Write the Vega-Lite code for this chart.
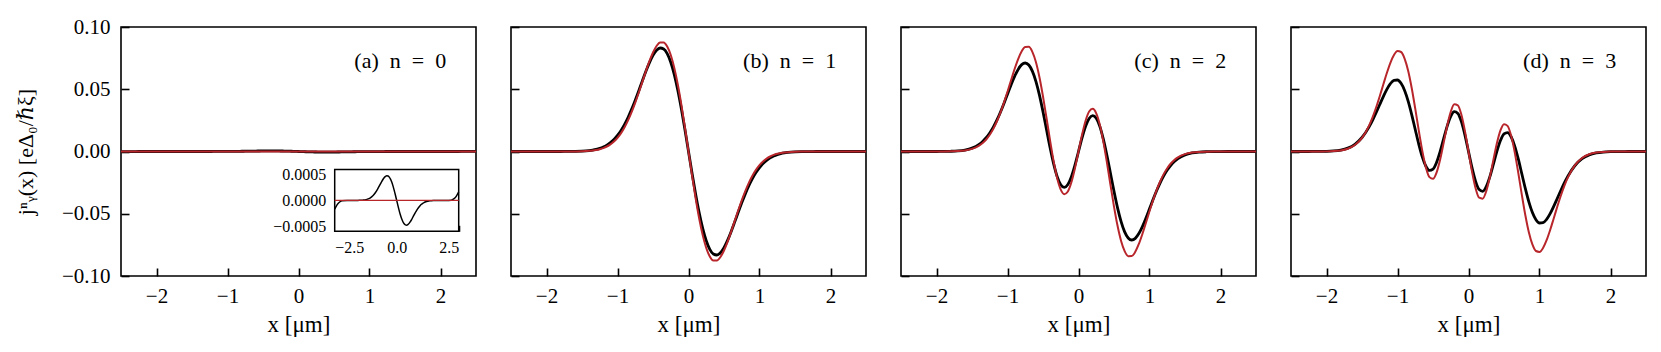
{
 "$schema": "https://vega.github.io/schema/vega-lite/v6.json",
 "background": "white",
 "padding": {"left": 13, "top": 15, "right": 5, "bottom": 5},
 "bounds": "flush",
 "spacing": 35,
 "config": {
  "view": {"stroke": "black", "strokeWidth": 1.6},
  "font": "Liberation Serif, DejaVu Serif, serif",
  "line": {"interpolate": "monotone"},
  "axis": {"domain": false, "grid": false, "zindex": 1, "tickColor": "black", "tickSize": -8, "tickWidth": 1.6,
           "labelFont": "Liberation Serif, DejaVu Serif, serif", "labelFontSize": 21, "labelColor": "black",
           "titleFont": "Liberation Serif, DejaVu Serif, serif", "titleFontSize": 23, "titleColor": "black", "titleFontWeight": "normal"}
 },
 "datasets": {"j": [
  {"x":-2.5,"ak":-0.00017,"ar":0,"bk":0,"br":0,"ck":0,"cr":0,"dk":0,"dr":0},
  {"x":-2.4,"ak":-0.00008,"ar":0,"bk":0,"br":0,"ck":0,"cr":0,"dk":0,"dr":0},
  {"x":-2.3,"ak":-0.00003,"ar":0,"bk":0,"br":0,"ck":0,"cr":0,"dk":0,"dr":0},
  {"x":-2.2,"ak":-0.000005,"ar":0,"bk":0,"br":0,"ck":0,"cr":0,"dk":0.00002,"dr":0.00001},
  {"x":-2.0,"ak":0,"ar":0,"bk":0,"br":0,"ck":0.00002,"cr":0.00001,"dk":0.00017,"dr":0.0001},
  {"x":-1.9,"ak":0,"ar":0,"bk":0,"br":0,"ck":0.00006,"cr":0.00003,"dk":0.00046,"dr":0.00031},
  {"x":-1.8,"ak":0,"ar":0,"bk":0.00001,"br":0,"ck":0.00018,"cr":0.00011,"dk":0.00117,"dr":0.00088},
  {"x":-1.7,"ak":0,"ar":0,"bk":0.00004,"br":0.00002,"ck":0.00049,"cr":0.00031,"dk":0.00271,"dr":0.00224},
  {"x":-1.6,"ak":0.000001,"ar":0,"bk":0.00012,"br":0.00007,"ck":0.0012,"cr":0.00084,"dk":0.00579,"dr":0.00521},
  {"x":-1.5,"ak":0.000002,"ar":0,"bk":0.00031,"br":0.00019,"ck":0.00274,"cr":0.00207,"dk":0.01124,"dr":0.01096},
  {"x":-1.4,"ak":0.000004,"ar":0,"bk":0.00076,"br":0.00051,"ck":0.00575,"cr":0.00467,"dk":0.01978,"dr":0.02083},
  {"x":-1.35,"ak":0.000007,"ar":0,"bk":0.00115,"br":0.0008,"ck":0.00807,"cr":0.00679,"dk":0.02522,"dr":0.02759},
  {"x":-1.3,"ak":0.00001,"ar":0,"bk":0.00172,"br":0.00123,"ck":0.01109,"cr":0.00965,"dk":0.0313,"dr":0.03552},
  {"x":-1.25,"ak":0.000015,"ar":0,"bk":0.00252,"br":0.00186,"ck":0.01491,"cr":0.01341,"dk":0.03773,"dr":0.04439},
  {"x":-1.2,"ak":0.000021,"ar":0,"bk":0.00362,"br":0.00276,"ck":0.0196,"cr":0.01819,"dk":0.04411,"dr":0.05376},
  {"x":-1.15,"ak":0.00003,"ar":0,"bk":0.00512,"br":0.00402,"ck":0.02517,"cr":0.02411,"dk":0.04991,"dr":0.06302},
  {"x":-1.1,"ak":0.000041,"ar":0,"bk":0.00711,"br":0.00574,"ck":0.03157,"cr":0.03114,"dk":0.05449,"dr":0.07123},
  {"x":-1.05,"ak":0.000056,"ar":0,"bk":0.00968,"br":0.00803,"ck":0.03862,"cr":0.03919,"dk":0.05719,"dr":0.07743},
  {"x":-1.0,"ak":0.000075,"ar":0,"bk":0.01293,"br":0.01101,"ck":0.04606,"cr":0.04804,"dk":0.05743,"dr":0.08064},
  {"x":-0.95,"ak":0.000098,"ar":0,"bk":0.01696,"br":0.0148,"ck":0.05346,"cr":0.05726,"dk":0.05476,"dr":0.07991},
  {"x":-0.9,"ak":0.000126,"ar":0,"bk":0.02182,"br":0.01949,"ck":0.06029,"cr":0.06624,"dk":0.04903,"dr":0.07467},
  {"x":-0.85,"ak":0.000159,"ar":0,"bk":0.02751,"br":0.02514,"ck":0.06594,"cr":0.07427,"dk":0.04045,"dr":0.06487},
  {"x":-0.8,"ak":0.000196,"ar":0,"bk":0.03402,"br":0.03174,"ck":0.06975,"cr":0.08048,"dk":0.02966,"dr":0.05104},
  {"x":-0.75,"ak":0.000238,"ar":0,"bk":0.0412,"br":0.0392,"ck":0.07109,"cr":0.08399,"dk":0.01766,"dr":0.03438},
  {"x":-0.7,"ak":0.000282,"ar":0,"bk":0.04887,"br":0.04736,"ck":0.06945,"cr":0.08404,"dk":0.00579,"dr":0.01673},
  {"x":-0.65,"ak":0.000327,"ar":0,"bk":0.05672,"br":0.05593,"ck":0.06455,"cr":0.08007,"dk":-0.00451,"dr":0.00027},
  {"x":-0.6,"ak":0.000372,"ar":0,"bk":0.06438,"br":0.06449,"ck":0.05638,"cr":0.07187,"dk":-0.01186,"dr":-0.01279},
  {"x":-0.55,"ak":0.000412,"ar":0,"bk":0.07137,"br":0.07254,"ck":0.04529,"cr":0.05967,"dk":-0.01523,"dr":-0.02057},
  {"x":-0.5,"ak":0.000446,"ar":0,"bk":0.07718,"br":0.0795,"ck":0.03197,"cr":0.04421,"dk":-0.01414,"dr":-0.02197},
  {"x":-0.45,"ak":0.000469,"ar":0,"bk":0.08127,"br":0.08473,"ck":0.01747,"cr":0.02669,"dk":-0.00878,"dr":-0.01694},
  {"x":-0.4,"ak":0.00048,"ar":0,"bk":0.08314,"br":0.08762,"ck":0.00305,"cr":0.0087,"dk":-0.00012,"dr":-0.00659},
  {"x":-0.35,"ak":0.000475,"ar":0,"bk":0.08234,"br":0.08761,"ck":-0.00993,"cr":-0.00798,"dk":0.01028,"dr":0.00692},
  {"x":-0.3,"ak":0.000454,"ar":0,"bk":0.07859,"br":0.08431,"ck":-0.02019,"cr":-0.02159,"dk":0.02042,"dr":0.02075},
  {"x":-0.25,"ak":0.000414,"ar":0,"bk":0.07172,"br":0.07749,"ck":-0.0267,"cr":-0.03066,"dk":0.02822,"dr":0.03191},
  {"x":-0.2,"ak":0.000357,"ar":0,"bk":0.06181,"br":0.06716,"ck":-0.02885,"cr":-0.03424,"dk":0.03196,"dr":0.03788},
  {"x":-0.15,"ak":0.000284,"ar":0,"bk":0.04912,"br":0.05361,"ck":-0.02653,"cr":-0.0321,"dk":0.03057,"dr":0.03713},
  {"x":-0.1,"ak":0.000197,"ar":0,"bk":0.03413,"br":0.03736,"ck":-0.02022,"cr":-0.02474,"dk":0.02399,"dr":0.02952},
  {"x":-0.05,"ak":0.000101,"ar":0,"bk":0.01749,"br":0.01919,"ck":-0.01092,"cr":-0.01344,"dk":0.01318,"dr":0.01632},
  {"x":0,"ak":0,"ar":0,"bk":0,"br":0,"ck":0,"cr":0,"dk":0,"dr":0},
  {"x":0.05,"ak":-0.000101,"ar":0,"bk":-0.01749,"br":-0.01919,"ck":0.01092,"cr":0.01344,"dk":-0.01318,"dr":-0.01632},
  {"x":0.1,"ak":-0.000197,"ar":0,"bk":-0.03413,"br":-0.03736,"ck":0.02022,"cr":0.02474,"dk":-0.02399,"dr":-0.02952},
  {"x":0.15,"ak":-0.000284,"ar":0,"bk":-0.04912,"br":-0.05361,"ck":0.02653,"cr":0.0321,"dk":-0.03057,"dr":-0.03713},
  {"x":0.2,"ak":-0.000357,"ar":0,"bk":-0.06181,"br":-0.06716,"ck":0.02885,"cr":0.03424,"dk":-0.03196,"dr":-0.03788},
  {"x":0.25,"ak":-0.000414,"ar":0,"bk":-0.07172,"br":-0.07749,"ck":0.0267,"cr":0.03066,"dk":-0.02822,"dr":-0.03191},
  {"x":0.3,"ak":-0.000454,"ar":0,"bk":-0.07859,"br":-0.08431,"ck":0.02019,"cr":0.02159,"dk":-0.02042,"dr":-0.02075},
  {"x":0.35,"ak":-0.000475,"ar":0,"bk":-0.08234,"br":-0.08761,"ck":0.00993,"cr":0.00798,"dk":-0.01028,"dr":-0.00692},
  {"x":0.4,"ak":-0.00048,"ar":0,"bk":-0.08314,"br":-0.08762,"ck":-0.00305,"cr":-0.0087,"dk":0.00012,"dr":0.00659},
  {"x":0.45,"ak":-0.000469,"ar":0,"bk":-0.08127,"br":-0.08473,"ck":-0.01747,"cr":-0.02669,"dk":0.00878,"dr":0.01694},
  {"x":0.5,"ak":-0.000446,"ar":0,"bk":-0.07718,"br":-0.0795,"ck":-0.03197,"cr":-0.04421,"dk":0.01414,"dr":0.02197},
  {"x":0.55,"ak":-0.000412,"ar":0,"bk":-0.07137,"br":-0.07254,"ck":-0.04529,"cr":-0.05967,"dk":0.01523,"dr":0.02057},
  {"x":0.6,"ak":-0.000372,"ar":0,"bk":-0.06438,"br":-0.06449,"ck":-0.05638,"cr":-0.07187,"dk":0.01186,"dr":0.01279},
  {"x":0.65,"ak":-0.000327,"ar":0,"bk":-0.05672,"br":-0.05593,"ck":-0.06455,"cr":-0.08007,"dk":0.00451,"dr":-0.00027},
  {"x":0.7,"ak":-0.000282,"ar":0,"bk":-0.04887,"br":-0.04736,"ck":-0.06945,"cr":-0.08404,"dk":-0.00579,"dr":-0.01673},
  {"x":0.75,"ak":-0.000238,"ar":0,"bk":-0.0412,"br":-0.0392,"ck":-0.07109,"cr":-0.08399,"dk":-0.01766,"dr":-0.03438},
  {"x":0.8,"ak":-0.000196,"ar":0,"bk":-0.03402,"br":-0.03174,"ck":-0.06975,"cr":-0.08048,"dk":-0.02966,"dr":-0.05104},
  {"x":0.85,"ak":-0.000159,"ar":0,"bk":-0.02751,"br":-0.02514,"ck":-0.06594,"cr":-0.07427,"dk":-0.04045,"dr":-0.06487},
  {"x":0.9,"ak":-0.000126,"ar":0,"bk":-0.02182,"br":-0.01949,"ck":-0.06029,"cr":-0.06624,"dk":-0.04903,"dr":-0.07467},
  {"x":0.95,"ak":-0.000098,"ar":0,"bk":-0.01696,"br":-0.0148,"ck":-0.05346,"cr":-0.05726,"dk":-0.05476,"dr":-0.07991},
  {"x":1.0,"ak":-0.000075,"ar":0,"bk":-0.01293,"br":-0.01101,"ck":-0.04606,"cr":-0.04804,"dk":-0.05743,"dr":-0.08064},
  {"x":1.05,"ak":-0.000056,"ar":0,"bk":-0.00968,"br":-0.00803,"ck":-0.03862,"cr":-0.03919,"dk":-0.05719,"dr":-0.07743},
  {"x":1.1,"ak":-0.000041,"ar":0,"bk":-0.00711,"br":-0.00574,"ck":-0.03157,"cr":-0.03114,"dk":-0.05449,"dr":-0.07123},
  {"x":1.15,"ak":-0.00003,"ar":0,"bk":-0.00512,"br":-0.00402,"ck":-0.02517,"cr":-0.02411,"dk":-0.04991,"dr":-0.06302},
  {"x":1.2,"ak":-0.000021,"ar":0,"bk":-0.00362,"br":-0.00276,"ck":-0.0196,"cr":-0.01819,"dk":-0.04411,"dr":-0.05376},
  {"x":1.25,"ak":-0.000015,"ar":0,"bk":-0.00252,"br":-0.00186,"ck":-0.01491,"cr":-0.01341,"dk":-0.03773,"dr":-0.04439},
  {"x":1.3,"ak":-0.00001,"ar":0,"bk":-0.00172,"br":-0.00123,"ck":-0.01109,"cr":-0.00965,"dk":-0.0313,"dr":-0.03552},
  {"x":1.35,"ak":-0.000007,"ar":0,"bk":-0.00115,"br":-0.0008,"ck":-0.00807,"cr":-0.00679,"dk":-0.02522,"dr":-0.02759},
  {"x":1.4,"ak":-0.000004,"ar":0,"bk":-0.00076,"br":-0.00051,"ck":-0.00575,"cr":-0.00467,"dk":-0.01978,"dr":-0.02083},
  {"x":1.5,"ak":-0.000002,"ar":0,"bk":-0.00031,"br":-0.00019,"ck":-0.00274,"cr":-0.00207,"dk":-0.01124,"dr":-0.01096},
  {"x":1.6,"ak":-0.000001,"ar":0,"bk":-0.00012,"br":-0.00007,"ck":-0.0012,"cr":-0.00084,"dk":-0.00579,"dr":-0.00521},
  {"x":1.7,"ak":0,"ar":0,"bk":-0.00004,"br":-0.00002,"ck":-0.00049,"cr":-0.00031,"dk":-0.00271,"dr":-0.00224},
  {"x":1.8,"ak":0,"ar":0,"bk":-0.00001,"br":0,"ck":-0.00018,"cr":-0.00011,"dk":-0.00117,"dr":-0.00088},
  {"x":1.9,"ak":0,"ar":0,"bk":0,"br":0,"ck":-0.00006,"cr":-0.00003,"dk":-0.00046,"dr":-0.00031},
  {"x":2.0,"ak":0,"ar":0,"bk":0,"br":0,"ck":-0.00002,"cr":-0.00001,"dk":-0.00017,"dr":-0.0001},
  {"x":2.2,"ak":0.000005,"ar":0,"bk":0,"br":0,"ck":0,"cr":0,"dk":-0.00002,"dr":-0.00001},
  {"x":2.3,"ak":0.00003,"ar":0,"bk":0,"br":0,"ck":0,"cr":0,"dk":0,"dr":0},
  {"x":2.4,"ak":0.00008,"ar":0,"bk":0,"br":0,"ck":0,"cr":0,"dk":0,"dr":0},
  {"x":2.5,"ak":0.00017,"ar":0,"bk":0,"br":0,"ck":0,"cr":0,"dk":0,"dr":0}
 ]},
 "hconcat": [
  {
   "width": 355, "height": 249,
   "layer": [
    {"data": {"name": "j"},
     "layer": [
      {"mark": {"type": "line", "color": "black", "strokeWidth": 2.8},
       "encoding": {
        "x": {"field": "x", "type": "quantitative", "scale": {"domain": [-2.5, 2.5], "nice": false, "zero": false},
              "axis": {"values": [-2, -1, 0, 1, 2], "format": "d", "title": "x [μm]", "labelPadding": 17, "titlePadding": 7}},
        "y": {"field": "ak", "type": "quantitative", "scale": {"domain": [-0.1, 0.1], "nice": false},
              "axis": {"values": [-0.1, -0.05, 0, 0.05, 0.1], "format": ".2f", "title": "jⁿᵧ(x) [eΔ₀/ℏξ]", "titleFontSize": 22, "labelPadding": 19, "titlePadding": 24}}}},
      {"mark": {"type": "line", "color": "#b8262b", "strokeWidth": 2},
       "encoding": {"x": {"field": "x", "type": "quantitative"}, "y": {"field": "ar", "type": "quantitative"}}},
      {"data": {"values": [{"t": "(a)\u00a0 n\u00a0 =\u00a0 0"}]},
       "mark": {"type": "text", "align": "right", "baseline": "middle", "fontSize": 22, "font": "Liberation Serif, DejaVu Serif, serif", "color": "black"},
       "encoding": {"x": {"datum": 2.08, "type": "quantitative"}, "y": {"datum": 0.0724, "type": "quantitative"}, "text": {"field": "t"}}}
     ]},
    {"data": {"name": "j"},
     "layer": [
      {"data": {"values": [{"box": "inset"}]},
       "mark": {"type": "rect", "fill": "white", "stroke": "black", "strokeWidth": 1.5},
       "encoding": {
        "x": {"datum": -2.5, "type": "quantitative", "scale": {"domain": [-2.5, 2.5], "range": [213.7, 337.7], "nice": false, "zero": false},
              "axis": {"orient": "bottom", "offset": -44.7, "values": [-2.5, 0, 2.5], "format": ".1f", "title": null, "tickSize": -6, "labelFontSize": 16, "labelPadding": 14}},
        "x2": {"datum": 2.5},
        "y": {"datum": -0.0006, "type": "quantitative", "scale": {"domain": [-0.0006, 0.0006], "range": [204.3, 142.6], "nice": false, "zero": false},
              "axis": {"orient": "left", "offset": -213.7, "values": [-0.0005, 0, 0.0005], "format": ".4f", "title": null, "tickSize": -6, "labelFontSize": 16, "labelPadding": 15}},
        "y2": {"datum": 0.0006}}},
      {"mark": {"type": "line", "color": "black", "strokeWidth": 1.5},
       "encoding": {"x": {"field": "x", "type": "quantitative"}, "y": {"field": "ak", "type": "quantitative"}}},
      {"mark": {"type": "line", "color": "#b8262b", "strokeWidth": 1.2},
       "encoding": {"x": {"field": "x", "type": "quantitative"}, "y": {"field": "ar", "type": "quantitative"}}}
     ]}
   ],
   "resolve": {"scale": {"x": "independent", "y": "independent"}}
  },
  {
   "width": 355, "height": 249,
   "data": {"name": "j"},
   "layer": [
    {"mark": {"type": "line", "color": "black", "strokeWidth": 2.8},
     "encoding": {
      "x": {"field": "x", "type": "quantitative", "scale": {"domain": [-2.5, 2.5], "nice": false, "zero": false},
            "axis": {"values": [-2, -1, 0, 1, 2], "format": "d", "title": "x [μm]", "labelPadding": 17, "titlePadding": 7}},
      "y": {"field": "bk", "type": "quantitative", "scale": {"domain": [-0.1, 0.1], "nice": false},
            "axis": {"values": [-0.1, -0.05, 0, 0.05, 0.1], "labels": false, "title": null}}}},
    {"mark": {"type": "line", "color": "#b8262b", "strokeWidth": 2},
     "encoding": {"x": {"field": "x", "type": "quantitative"}, "y": {"field": "br", "type": "quantitative"}}},
    {"data": {"values": [{"t": "(b)\u00a0 n\u00a0 =\u00a0 1"}]},
     "mark": {"type": "text", "align": "right", "baseline": "middle", "fontSize": 22, "font": "Liberation Serif, DejaVu Serif, serif", "color": "black"},
     "encoding": {"x": {"datum": 2.08, "type": "quantitative"}, "y": {"datum": 0.0724, "type": "quantitative"}, "text": {"field": "t"}}}
   ]
  },
  {
   "width": 355, "height": 249,
   "data": {"name": "j"},
   "layer": [
    {"mark": {"type": "line", "color": "black", "strokeWidth": 2.8},
     "encoding": {
      "x": {"field": "x", "type": "quantitative", "scale": {"domain": [-2.5, 2.5], "nice": false, "zero": false},
            "axis": {"values": [-2, -1, 0, 1, 2], "format": "d", "title": "x [μm]", "labelPadding": 17, "titlePadding": 7}},
      "y": {"field": "ck", "type": "quantitative", "scale": {"domain": [-0.1, 0.1], "nice": false},
            "axis": {"values": [-0.1, -0.05, 0, 0.05, 0.1], "labels": false, "title": null}}}},
    {"mark": {"type": "line", "color": "#b8262b", "strokeWidth": 2},
     "encoding": {"x": {"field": "x", "type": "quantitative"}, "y": {"field": "cr", "type": "quantitative"}}},
    {"data": {"values": [{"t": "(c)\u00a0 n\u00a0 =\u00a0 2"}]},
     "mark": {"type": "text", "align": "right", "baseline": "middle", "fontSize": 22, "font": "Liberation Serif, DejaVu Serif, serif", "color": "black"},
     "encoding": {"x": {"datum": 2.08, "type": "quantitative"}, "y": {"datum": 0.0724, "type": "quantitative"}, "text": {"field": "t"}}}
   ]
  },
  {
   "width": 355, "height": 249,
   "data": {"name": "j"},
   "layer": [
    {"mark": {"type": "line", "color": "black", "strokeWidth": 2.8},
     "encoding": {
      "x": {"field": "x", "type": "quantitative", "scale": {"domain": [-2.5, 2.5], "nice": false, "zero": false},
            "axis": {"values": [-2, -1, 0, 1, 2], "format": "d", "title": "x [μm]", "labelPadding": 17, "titlePadding": 7}},
      "y": {"field": "dk", "type": "quantitative", "scale": {"domain": [-0.1, 0.1], "nice": false},
            "axis": {"values": [-0.1, -0.05, 0, 0.05, 0.1], "labels": false, "title": null}}}},
    {"mark": {"type": "line", "color": "#b8262b", "strokeWidth": 2},
     "encoding": {"x": {"field": "x", "type": "quantitative"}, "y": {"field": "dr", "type": "quantitative"}}},
    {"data": {"values": [{"t": "(d)\u00a0 n\u00a0 =\u00a0 3"}]},
     "mark": {"type": "text", "align": "right", "baseline": "middle", "fontSize": 22, "font": "Liberation Serif, DejaVu Serif, serif", "color": "black"},
     "encoding": {"x": {"datum": 2.08, "type": "quantitative"}, "y": {"datum": 0.0724, "type": "quantitative"}, "text": {"field": "t"}}}
   ]
  }
 ]
}
